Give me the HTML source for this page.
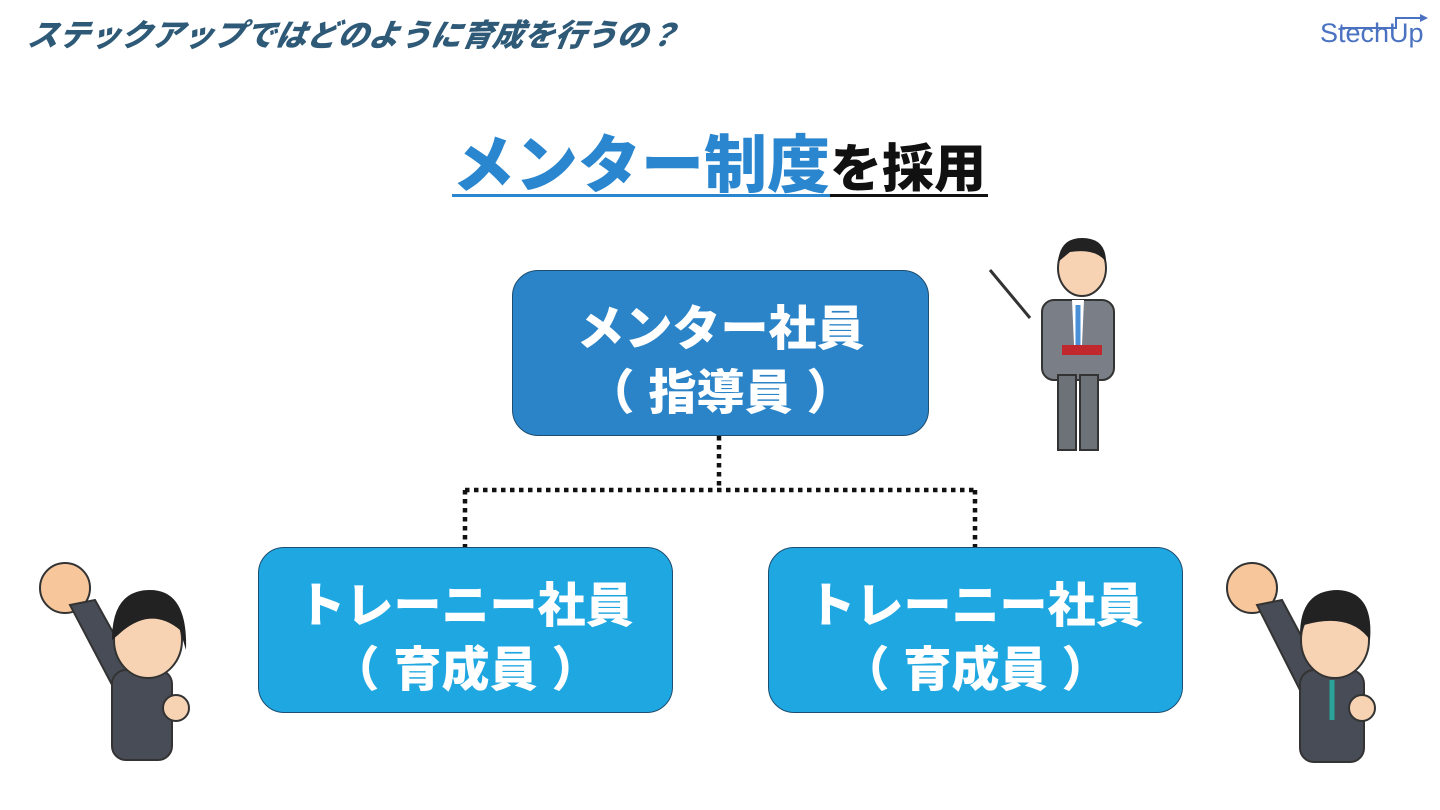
<!DOCTYPE html>
<html><head><meta charset="utf-8">
<style>
html,body{margin:0;padding:0;}
body{width:1440px;height:810px;position:relative;background:#fff;overflow:hidden;font-family:"Liberation Sans","Noto Sans CJK JP",sans-serif;}
.hdr{position:absolute;left:28px;top:14px;font-size:31px;font-weight:900;color:#2e5a78;font-style:italic;transform:skewX(-10deg);white-space:nowrap;line-height:44px;}
.logo{position:absolute;left:1320px;top:18px;font-size:27px;color:#4a72c0;white-space:nowrap;}
.title{position:absolute;left:452px;top:126px;white-space:nowrap;font-weight:900;line-height:80px;height:80px;}
.title .a{font-size:63px;color:#2a86cf;}
.title .b{font-size:52px;color:#111;}
.ul1{position:absolute;left:452px;top:194px;width:378px;height:3px;background:#2a86cf;}
.ul2{position:absolute;left:830px;top:194px;width:158px;height:3px;background:#111;}
.box{position:absolute;border:1.5px solid #1d4d70;border-radius:26px;color:#fff;font-weight:900;font-size:48px;text-align:center;line-height:64px;box-sizing:border-box;padding-top:27px;}
.box .l{margin-right:14px;}
.box .r{margin-left:14px;}
.top{left:512px;top:270px;width:417px;height:166px;background:#2b84c8;}
.bot{top:547px;width:415px;height:166px;background:#1fa7e1;}
</style></head><body>
<div class="hdr">ステックアップではどのように育成を行うの？</div>
<div class="logo">StechUp</div>
<svg style="position:absolute;left:1340px;top:12px" width="90" height="20"><polyline points="2,16 56,16 56,6 86,6" fill="none" stroke="#4a72c0" stroke-width="2"/><polygon points="80,2 88,6 80,10" fill="#4a72c0"/></svg>
<div class="title"><span class="a">メンター制度</span><span class="b">を採用</span></div>
<div class="ul1"></div><div class="ul2"></div>

<svg style="position:absolute;left:0;top:0" width="1440" height="810">
<g stroke="#111" stroke-width="4.5" stroke-dasharray="4.5,4.5" fill="none">
<line x1="719" y1="436" x2="719" y2="490"/>
<line x1="465" y1="490" x2="975" y2="490"/>
<line x1="465" y1="490" x2="465" y2="547"/>
<line x1="975" y1="490" x2="975" y2="547"/>
</g>
<line x1="990" y1="270" x2="1030" y2="318" stroke="#333" stroke-width="3"/>
<rect x="1042" y="300" width="72" height="80" rx="12" fill="#7a7f87" stroke="#333" stroke-width="2"/>
<rect x="1058" y="375" width="18" height="75" fill="#6d7279" stroke="#333" stroke-width="2"/>
<rect x="1080" y="375" width="18" height="75" fill="#6d7279" stroke="#333" stroke-width="2"/>
<polygon points="1072,300 1084,300 1082,345 1074,345" fill="#fff"/>
<line x1="1078" y1="305" x2="1078" y2="345" stroke="#4a90d9" stroke-width="5"/>
<ellipse cx="1082" cy="268" rx="24" ry="28" fill="#f7d3b4" stroke="#333" stroke-width="2"/>
<path d="M1058,262 Q1060,238 1082,238 Q1106,238 1106,262 Q1096,248 1070,252 Z" fill="#222"/>
<rect x="1062" y="345" width="40" height="10" fill="#c0282e"/>
<circle cx="65" cy="588" r="25" fill="#f7c79b" stroke="#333" stroke-width="2"/>
<polygon points="70,605 95,600 145,690 120,700" fill="#474c56" stroke="#333" stroke-width="2"/>
<rect x="112" y="670" width="60" height="90" rx="14" fill="#474c56" stroke="#333" stroke-width="2"/>
<ellipse cx="148" cy="640" rx="34" ry="38" fill="#f7d3b4" stroke="#333" stroke-width="2"/>
<path d="M112,640 Q112,590 150,590 Q188,590 186,650 L180,630 Q150,605 118,635 Z" fill="#222"/>
<circle cx="176" cy="708" r="13" fill="#f7d3b4" stroke="#333" stroke-width="2"/>
<circle cx="1252" cy="588" r="25" fill="#f7c79b" stroke="#333" stroke-width="2"/>
<polygon points="1257,605 1282,600 1330,690 1305,700" fill="#474c56" stroke="#333" stroke-width="2"/>
<rect x="1300" y="670" width="64" height="92" rx="14" fill="#474c56" stroke="#333" stroke-width="2"/>
<line x1="1332" y1="680" x2="1332" y2="720" stroke="#2aa39a" stroke-width="5"/>
<ellipse cx="1335" cy="640" rx="34" ry="38" fill="#f7d3b4" stroke="#333" stroke-width="2"/>
<path d="M1300,635 Q1300,590 1338,590 Q1374,592 1370,640 Q1350,612 1304,625 Z" fill="#222"/>
<circle cx="1362" cy="708" r="13" fill="#f7d3b4" stroke="#333" stroke-width="2"/>
</svg>

<div class="box top">メンター社員<br><span class="l">（</span>指導員<span class="r">）</span></div>
<div class="box bot" style="left:258px">トレーニー社員<br><span class="l">（</span>育成員<span class="r">）</span></div>
<div class="box bot" style="left:768px">トレーニー社員<br><span class="l">（</span>育成員<span class="r">）</span></div>
</body></html>
